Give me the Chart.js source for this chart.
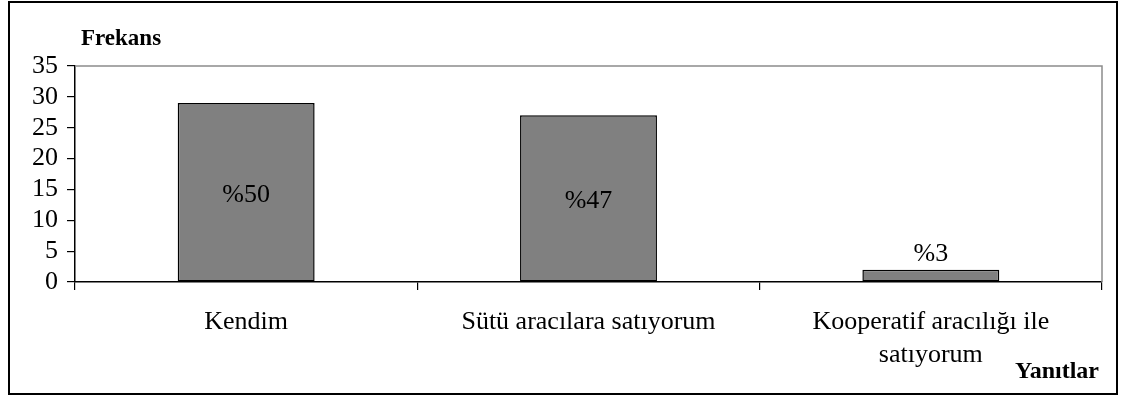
<!DOCTYPE html>
<html>
<head>
<meta charset="utf-8">
<script src="https://cdn.jsdelivr.net/npm/chart.js@4/dist/chart.umd.min.js"></script>
<style>
  html, body { margin: 0; padding: 0; background: #fff; }
  #wrap { position: relative; width: 1125px; height: 396px; }
  #frame { position: absolute; left: 8px; top: 1px; width: 1110px; height: 394px; box-sizing: border-box; border: 2px solid #000; }
  canvas { position: absolute; left: 0; top: 0; }
</style>
</head>
<body>
<div id="wrap">
  <div id="frame"></div>
  <canvas id="c" width="1125" height="396"></canvas>
</div>
<script>
const categories = ["Kendim", "Sütü aracılara satıyorum", ["Kooperatif aracılığı ile", "satıyorum"]];
const frequencies = [29, 27, 2];
const percentLabels = ["%50", "%47", "%3"];
const yTicks = [0, 5, 10, 15, 20, 25, 30, 35];
const yAxisTitle = "Frekans";
const xAxisTitle = "Yanıtlar";

const SERIF = "'Liberation Serif', 'Times New Roman', serif";

const decor = {
  id: 'decor',
  afterDatasetsDraw(chart) {
    const ctx = chart.ctx;
    const a = chart.chartArea;
    ctx.save();
    ctx.strokeStyle = '#8c8c8c';
    ctx.lineWidth = 1.5;
    ctx.beginPath();
    ctx.moveTo(a.left, a.top);
    ctx.lineTo(a.right, a.top);
    ctx.lineTo(a.right, a.bottom);
    ctx.stroke();
    const meta = chart.getDatasetMeta(0);
    ctx.fillStyle = '#000';
    ctx.font = '26px ' + SERIF;
    ctx.textAlign = 'center';
    meta.data.forEach((bar, i) => {
      const p = bar.getProps(['x', 'y', 'base'], true);
      if (frequencies[i] < 5) {
        ctx.textBaseline = 'alphabetic';
        ctx.fillText(percentLabels[i], p.x, p.y - 9);
      } else {
        ctx.textBaseline = 'middle';
        ctx.fillText(percentLabels[i], p.x, (p.y + p.base) / 2 + 3);
      }
    });
    ctx.font = 'bold 23px ' + SERIF;
    ctx.textAlign = 'left';
    ctx.textBaseline = 'middle';
    ctx.fillText(yAxisTitle, 81, 39);
    ctx.font = 'bold 24px ' + SERIF;
    ctx.textAlign = 'right';
    ctx.fillText(xAxisTitle, 1099, 372);
    ctx.restore();
  }
};

new Chart(document.getElementById('c'), {
  type: 'bar',
  data: {
    labels: categories,
    datasets: [{
      data: frequencies,
      backgroundColor: '#808080',
      borderColor: '#000',
      borderWidth: 1.5,
      borderSkipped: false,
      barPercentage: 0.4,
      categoryPercentage: 1.0
    }]
  },
  options: {
    responsive: false,
    animation: false,
    devicePixelRatio: 1,
    layout: { padding: { top: 66, right: 23, left: 0, bottom: 0 } },
    plugins: { legend: { display: false }, tooltip: { enabled: false } },
    scales: {
      x: {
        grid: { display: true, drawOnChartArea: false, drawTicks: true, tickLength: 8, color: '#000', lineWidth: 1.2, offset: true },
        border: { display: true, color: '#000', width: 1.5 },
        ticks: { color: '#000', padding: 16, maxRotation: 0, autoSkip: false, font: { family: SERIF, size: 26, lineHeight: 1.27 } },
        afterFit(axis) { axis.height = 396 - 282; }
      },
      y: {
        min: 0, max: 35,
        afterBuildTicks(axis) { axis.ticks = yTicks.map(v => ({ value: v })); },
        grid: { display: true, drawOnChartArea: false, drawTicks: true, tickLength: 8, color: '#000', lineWidth: 1.2 },
        border: { display: true, color: '#000', width: 1.5 },
        ticks: { color: '#000', padding: 9, autoSkip: false, font: { family: SERIF, size: 26, lineHeight: 1.0 } },
        afterFit(axis) { axis.width = 75; }
      }
    }
  },
  plugins: [decor]
});
</script>
</body>
</html>
